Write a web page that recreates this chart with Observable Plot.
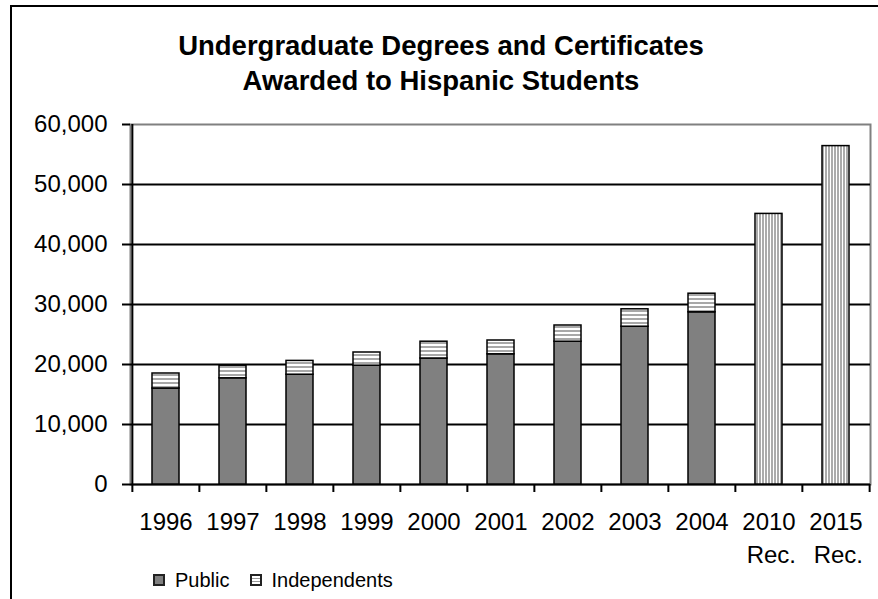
<!DOCTYPE html>
<html>
<head>
<meta charset="utf-8">
<script src="https://cdn.jsdelivr.net/npm/d3@7"></script>
<script src="https://cdn.jsdelivr.net/npm/@observablehq/plot@0.6"></script>
<style>
  body { margin: 0; background: #fff; }
  #wrap { position: relative; width: 878px; height: 599px; overflow: hidden; font-family: "Liberation Sans", Arial, sans-serif; color: #000; }
  #frame { position: absolute; left: 10px; top: 5px; right: -10px; bottom: -10px; border-left: 2px solid #000; border-top: 2px solid #000; }
  #title { position: absolute; left: 11px; width: 860px; top: 28px; text-align: center; font-weight: bold; font-size: 27.5px; line-height: 35px; }
  #chart { position: absolute; left: 0; top: 100px; }
  #legend { position: absolute; top: 570px; left: 153px; height: 20px; font-size: 20px; line-height: 20px; display: flex; align-items: center; white-space: nowrap; }
  .sw { display: inline-block; width: 12px; height: 12px; box-sizing: border-box; border: 2px solid #222; }
  .sw.pub { background: #808080; }
  .sw.ind { background: repeating-linear-gradient(to bottom, #fff 0px, #fff 1.5px, #999 1.5px, #999 3px); }
</style>
</head>
<body>
<div id="wrap">
  <div id="frame"></div>
  <div id="title">Undergraduate Degrees and Certificates<br>Awarded to Hispanic Students</div>
  <div id="chart"></div>
  <div id="legend">
    <span class="sw pub"></span><span style="margin-left:10px">Public</span>
    <span class="sw ind" style="margin-left:21px"></span><span style="margin-left:9px">Independents</span>
  </div>
</div>
<script>
const categories = ["1996","1997","1998","1999","2000","2001","2002","2003","2004","2010","2015"];
const labelLine2 = ["","","","","","","","","","Rec.","Rec."];
const publicValues = [16000,17700,18300,19800,21000,21700,23800,26300,28700,null,null];
const independentValues = [2500,2100,2300,2200,2800,2300,2700,2900,3100,null,null];
const recommendedValues = [null,null,null,null,null,null,null,null,null,45100,56400];
const yTicks = [0,10000,20000,30000,40000,50000,60000];

const rows = categories.map((c, i) => ({
  cat: c, line2: labelLine2[i], pub: publicValues[i], ind: independentValues[i], rec: recommendedValues[i]
}));
const actual = rows.filter(d => d.pub != null);
const recs = rows.filter(d => d.rec != null);

const W = 878, mL = 130, mR = 8;
const step = (W - mL - mR) / categories.length;

const plot = Plot.plot({
  width: W,
  height: 470,
  marginLeft: mL,
  marginRight: mR,
  marginTop: 24,
  marginBottom: 86,
  style: { fontFamily: "'Liberation Sans', Arial, sans-serif", fontSize: "24px", background: "transparent", color: "#000", overflow: "visible" },
  x: { domain: categories, paddingInner: 0.6, paddingOuter: 0.3, label: null },
  y: { domain: [0, 60000], label: null },
  marks: [
    Plot.frame({ stroke: "#808080", strokeWidth: 2 }),
    Plot.gridY({ ticks: yTicks.slice(1, -1), stroke: "#000", strokeOpacity: 1, strokeWidth: 2 }),
    Plot.ruleX([categories[0]], { y1: 0, y2: 60000, dx: -step / 2, stroke: "#000", strokeWidth: 2 }),
    Plot.ruleY([0], { stroke: "#000", strokeWidth: 2 }),
    Plot.axisY({ ticks: yTicks, tickSize: 8, tickPadding: 15, tickFormat: d3.format(","), strokeWidth: 2, label: null }),
    Plot.axisX({ tickSize: 8, dx: -step / 2, tickFormat: () => "", strokeWidth: 2, label: null }),
    Plot.axisX({ ticks: [categories[categories.length - 1]], tickSize: 8, dx: step / 2, tickFormat: () => "", strokeWidth: 2, label: null }),
    Plot.barY(actual, { x: "cat", y: "pub", fill: "#808080", stroke: "#000", strokeWidth: 1.5 }),
    Plot.barY(actual, { x: "cat", y1: "pub", y2: d => d.pub + d.ind, fill: "url(#hstripe)", stroke: "#000", strokeWidth: 1.5 }),
    Plot.barY(recs, { x: "cat", y: "rec", fill: "url(#vstripe)", stroke: "#000", strokeWidth: 1.5 }),
    Plot.text(rows, { x: "cat", text: "cat", frameAnchor: "bottom", lineAnchor: "top", dy: 28, fill: "#000" }),
    Plot.text(recs, { x: "cat", text: "line2", frameAnchor: "bottom", lineAnchor: "top", textAnchor: "end", dx: 27, dy: 61, fill: "#000" })
  ]
});

const defs = d3.select(plot).insert("defs", ":first-child");
const h = defs.append("pattern").attr("id", "hstripe").attr("patternUnits", "userSpaceOnUse").attr("width", 8).attr("height", 4);
h.append("rect").attr("width", 8).attr("height", 4).attr("fill", "#fff");
h.append("rect").attr("y", 2).attr("width", 8).attr("height", 2).attr("fill", "#a8a8a8");
const v = defs.append("pattern").attr("id", "vstripe").attr("patternUnits", "userSpaceOnUse").attr("width", 3).attr("height", 8);
v.append("rect").attr("width", 3).attr("height", 8).attr("fill", "#fff");
v.append("rect").attr("width", 2).attr("height", 8).attr("fill", "#ababab");

document.getElementById("chart").appendChild(plot);
</script>
</body>
</html>
